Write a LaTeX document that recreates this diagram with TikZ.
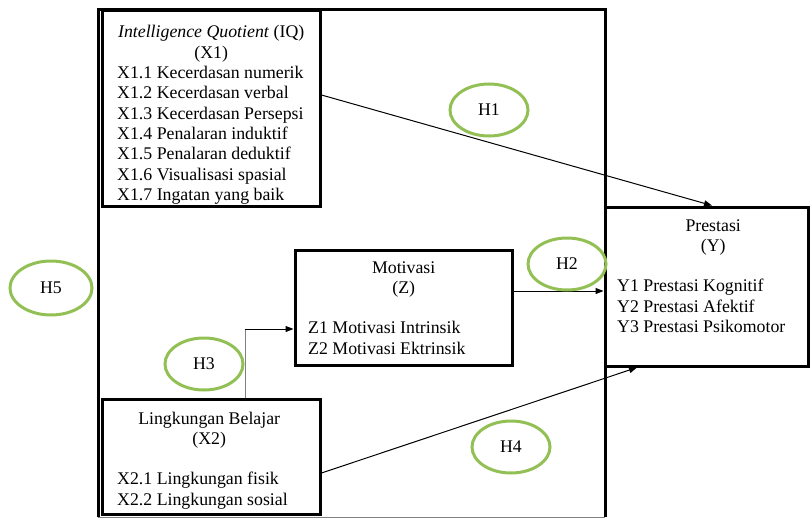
\documentclass[tikz,border=0pt]{standalone}
\usepackage{fontspec}
\setmainfont{Liberation Serif}
\usetikzlibrary{arrows.meta,shapes.geometric}
\definecolor{hypgreen}{RGB}{146,192,84}
\tikzset{
  varbox/.style={draw, line width=3pt, inner sep=0pt},
  vartext/.style={anchor=base west, inner sep=0pt, font=\fontsize{17.8}{20.3}\selectfont},
  hyp/.style={ellipse, draw=hypgreen, line width=3pt, minimum width=78pt, minimum height=52pt, inner sep=0pt, font=\fontsize{17.8}{20.3}\selectfont},
  conn/.style={-{Triangle[length=8pt,width=6pt]}, line width=1pt}
}

\begin{document}
\begin{tikzpicture}[x=1pt,y=-1pt]
\useasboundingbox (0,0) rectangle (811,519);
% outer frame (H5)
\draw[line width=3pt] (98,517) -- (98,10) -- (605,10) -- (605,517);
\draw[gray, line width=1pt] (98,517) -- (605,517);
% variables
\node[varbox, minimum width=218pt, minimum height=195pt] (iq) at (211,108.5) {};
\node[varbox, minimum width=218pt, minimum height=115pt] (lb) at (211,456.5) {};
\node[varbox, minimum width=217pt, minimum height=115pt] (mot) at (403.5,307.5) {};
\node[varbox, minimum width=203pt, minimum height=159pt] (pres) at (706.5,286.5) {};
\node[vartext] (iqt) at (117,38) {\parbox[t]{188pt}{\centering\textit{Intelligence Quotient} (IQ)\\(X1)\par
  \raggedright X1.1 Kecerdasan numerik\\X1.2 Kecerdasan verbal\\X1.3 Kecerdasan Persepsi\\X1.4 Penalaran induktif\\X1.5 Penalaran deduktif\\X1.6 Visualisasi spasial\\X1.7 Ingatan yang baik}};
\node[vartext] (lbt) at (117,424) {\parbox[t]{184pt}{\centering Lingkungan Belajar\\(X2)\\\mbox{}\par
  \raggedright X2.1 Lingkungan fisik\\X2.2 Lingkungan sosial}};
\node[vartext] (mott) at (308,273) {\parbox[t]{191pt}{\centering Motivasi\\(Z)\\\mbox{}\par
  \raggedright Z1 Motivasi Intrinsik\\Z2 Motivasi Ektrinsik}};
\node[vartext] (prest) at (617,231) {\parbox[t]{192pt}{\centering Prestasi\\(Y)\\\mbox{}\par
  \raggedright Y1 Prestasi Kognitif\\Y2 Prestasi Afektif\\Y3 Prestasi Psikomotor}};
% paths
\coordinate (h3c) at (245,329);
\draw[conn] ([yshift=13.5pt]iq.east) -- ([xshift=5.5pt]pres.north);
\draw[conn] ([yshift=16.5pt]mot.east) -- ([yshift=16.5pt]mot.east -| pres.west);
\draw[gray, line width=1pt] (h3c |- lb.north) -- (h3c);
\draw[conn] (h3c) -- (h3c -| mot.west);
\draw[conn] ([yshift=-16.5pt]lb.east) -- ([xshift=-69.5pt]pres.south);
% hypotheses
\node[hyp] (h1) at (489,110) {H1};
\node[hyp] (h2) at (567,264) {H2};
\node[hyp] (h3) at (204,364) {H3};
\node[hyp] (h4) at (511,447) {H4};
\node[hyp, minimum width=82pt, minimum height=54pt] (h5) at (51,288) {H5};
\end{tikzpicture}
\end{document}
